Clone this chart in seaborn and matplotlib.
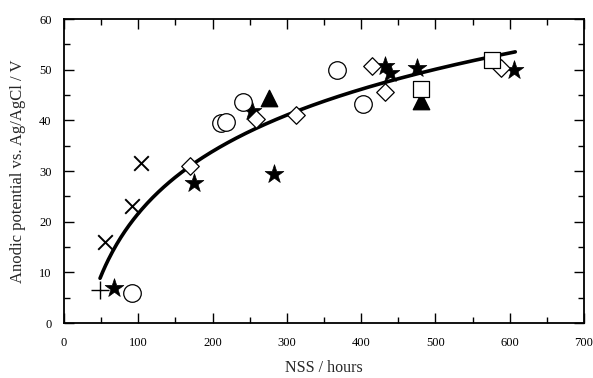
import matplotlib

matplotlib.use("Agg")
import matplotlib.pyplot as plt   # noqa: E402
import numpy as np                 # noqa: E402
import pandas as pd                # noqa: E402
import seaborn as sns              # noqa: E402
from matplotlib.ticker import MultipleLocator  # noqa: E402

# ---------------------------------------------------------------------------
# Data
# ---------------------------------------------------------------------------
cross_x = [55, 91, 104]
cross_y = [16.0, 23.0, 31.5]

plus_x = [48]
plus_y = [6.6]

star_x = [67, 175, 253, 283, 432, 439, 475, 606]
star_y = [7.0, 27.7, 41.8, 29.5, 50.7, 49.3, 50.4, 49.9]

circle_x = [92, 211, 218, 241, 367, 402]
circle_y = [6.0, 39.4, 39.6, 43.7, 49.9, 43.2]

diamond_x = [169, 258, 312, 414, 432, 588]
diamond_y = [31.0, 40.3, 41.0, 50.8, 45.5, 50.3]

triangle_x = [276, 480]
triangle_y = [44.5, 43.8]

square_x = [480, 576]
square_y = [46.2, 51.9]

# logarithmic fit y = a * ln(x) + b
fit_a, fit_b = 17.68, -59.8
fit_range = (48.5, 607.5)

sns.set_style("ticks")
plt.rcParams["font.family"] = ["Liberation Serif", "DejaVu Serif"]

fig = plt.figure(figsize=(5.93, 3.78), dpi=100)
ax = fig.add_axes([64 / 593, 1 - 323 / 378, 520 / 593, 304 / 378])

groups = [
    (cross_x, cross_y, dict(marker="x", s=110, color="black", linewidths=1.4)),
    (plus_x, plus_y, dict(marker="+", s=170, color="black", linewidths=1.0)),
    (star_x, star_y, dict(marker="*", s=200, color="black", edgecolor="black", linewidth=0.5)),
    (circle_x, circle_y, dict(marker="o", s=160, facecolor="white", edgecolor="black", linewidth=0.9)),
    (diamond_x, diamond_y, dict(marker="D", s=80, facecolor="white", edgecolor="black", linewidth=0.9)),
    (triangle_x, triangle_y, dict(marker="^", s=140, color="black", edgecolor="black")),
    (square_x, square_y, dict(marker="s", s=120, facecolor="white", edgecolor="black", linewidth=0.9)),
]
for gx, gy, kw in groups:
    sns.scatterplot(x=gx, y=gy, ax=ax, zorder=3, **kw)

xs = np.linspace(fit_range[0], fit_range[1], 300)
fit_df = pd.DataFrame({"x": xs, "y": fit_a * np.log(xs) + fit_b})
sns.lineplot(data=fit_df, x="x", y="y", ax=ax, color="black", lw=2.6, zorder=2)

ax.set_xlim(0, 700)
ax.set_ylim(0, 60)
ax.xaxis.set_major_locator(MultipleLocator(100))
ax.xaxis.set_minor_locator(MultipleLocator(50))
ax.yaxis.set_major_locator(MultipleLocator(10))
ax.yaxis.set_minor_locator(MultipleLocator(5))
ax.tick_params(which="both", direction="in", top=True, right=True,
               width=1.0, color="black", labelsize=9, labelcolor="black")
ax.tick_params(which="major", length=7)
ax.tick_params(which="minor", length=4)
ax.tick_params(axis="y", which="major", pad=9)
ax.tick_params(axis="x", which="major", pad=10)
for sp in ax.spines.values():
    sp.set_visible(True)
    sp.set_linewidth(1.3)
    sp.set_color("black")

ax.set_xlabel("NSS / hours", fontsize=11.5, labelpad=8)
ax.set_ylabel("Anodic potential vs. Ag/AgCl / V", fontsize=12, labelpad=9)

fig.savefig("out.png", dpi=100)
plt.close(fig)
